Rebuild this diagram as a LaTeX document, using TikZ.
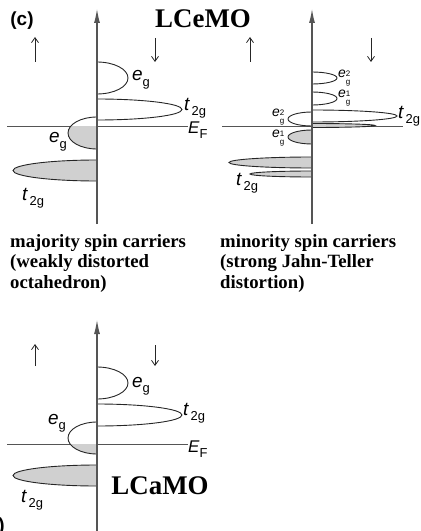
\documentclass[tikz,border=0pt]{standalone}
\usepackage{fontspec}
\setmainfont{Liberation Serif}
\newfontfamily\labfont{Liberation Sans}
\usetikzlibrary{arrows.meta}
\definecolor{Axis}{HTML}{555555}
\definecolor{Edge}{HTML}{262626}
\definecolor{Shade}{HTML}{D0D0D0}
\newcommand\lobe[5][]{\path[#1] (#2,#3) .. controls ({#2+0.5523*(#5-#2)},#3) and (#5,{(#3+#4)/2-0.2762*(#4-#3)}) .. (#5,{(#3+#4)/2}) .. controls (#5,{(#3+#4)/2+0.2762*(#4-#3)}) and ({#2+0.5523*(#5-#2)},#4) .. (#2,#4);}
\newcommand\orb[2]{{\itshape #1}\raisebox{-0.55ex}{\fontsize{13}{13}\selectfont #2}}
\newcommand\orbn[1]{{\itshape e}\raisebox{-0.9ex}{\fontsize{8}{8.5}\selectfont\shortstack[l]{#1\\g}}}

\begin{document}
\begin{tikzpicture}[x=1bp,y=-1bp,
    lobeline/.style={draw=Edge,line width=0.9bp},
    lobefill/.style={lobeline,fill=Shade},
    axisline/.style={draw=Axis,line width=1.1bp,-{Latex[length=14bp,width=6bp]}},
    fermi/.style={draw=Axis,line width=1bp},
    spin/.style={draw=Edge,line width=0.8bp,-{Straight Barb[length=5bp,width=7bp]}},
    lab/.style={anchor=west,inner sep=0,font=\labfont\fontsize{19}{19}\selectfont},
    labs/.style={anchor=west,inner sep=0,font=\labfont\fontsize{14}{14}\selectfont},
    title/.style={inner sep=0,font=\fontsize{27}{27}\selectfont\bfseries},
    caption/.style={anchor=north west,inner sep=0,align=left,font=\fontsize{18.8}{20.5}\selectfont\bfseries}]
  \useasboundingbox (0,0) rectangle (420,531);

  \node[inner sep=0,font=\labfont\fontsize{19}{19}\selectfont\bfseries] (panelc) at (22,21) {(c)};
  \node[title] (ceTitle) at (203,19) {LCeMO};

  % majority / minority, LCeMO
  \draw[fermi] (7,127) -- (188,127);
  \draw[fermi] (222,127) -- (403,127);
  \lobe[lobeline]{97}{62}{94}{128}
  \lobe[lobeline]{97}{99}{120}{182}
  \begin{scope}
    \clip (0,127) rectangle (97,160);
    \lobe[fill=Shade]{97}{117}{149}{68}
  \end{scope}
  \lobe[lobeline]{97}{117}{149}{68}
  \lobe[lobefill]{97}{160}{181}{13}

  \lobe[lobeline]{312}{72}{84}{337}
  \lobe[lobeline]{312}{92}{105}{337}
  \lobe[lobeline]{312}{110}{122}{397}
  \lobe[lobefill]{312}{123.5}{127.5}{375}
  \lobe[lobeline]{312}{112}{126}{288}
  \lobe[lobefill]{312}{130}{144}{288}
  \lobe[lobefill]{312}{157}{168}{229}
  \lobe[lobefill]{312}{171}{177}{250}

  \draw[axisline] (97,224) -- (97,9);
  \draw[axisline] (312,224) -- (312,9);
  \foreach \x in {35,250}{\draw[spin] (\x,62) -- (\x,37);}
  \foreach \x in {155,371}{\draw[spin] (\x,38) -- (\x,62);}

  \node[lab] (egUpA) at (132,80) {\orb{e}{g}};
  \node[lab] (tgUpA) at (184,108) {\orb{t}{\,2g}};
  \node[lab,font=\labfont\fontsize{17}{17}\selectfont] (efA) at (188,130) {\orb{E}{F}};
  \node[lab] (egDnA) at (49,142) {\orb{e}{g}};
  \node[lab] (tgDnA) at (22,198) {\orb{t}{\,2g}};

  \node[labs] (egTwoR) at (338,78) {\orbn{2}};
  \node[labs] (egOneR) at (338,98) {\orbn{1}};
  \node[lab] (tgUpB) at (398,116) {\orb{t}{\,2g}};
  \node[labs] (egTwoL) at (272,117) {\orbn{2}};
  \node[labs] (egOneL) at (272,138) {\orbn{1}};
  \node[lab] (tgDnB) at (236,183) {\orb{t}{\,2g}};

  \node[caption] (majText) at (10,234) {majority spin carriers\\(weakly distorted\\octahedron)};
  \node[caption] (minText) at (220,234) {minority spin carriers\\(strong Jahn-Teller\\distortion)};

  % LCaMO
  \draw[fermi] (7,444) -- (188,444);
  \lobe[lobeline]{97}{367}{399}{128}
  \lobe[lobeline]{97}{404}{426}{182}
  \begin{scope}
    \clip (0,444) rectangle (97,460);
    \lobe[fill=Shade]{97}{422}{454}{68}
  \end{scope}
  \lobe[lobeline]{97}{422}{454}{68}
  \lobe[lobefill]{97}{465}{486}{13}
  \draw[axisline] (97,531) -- (97,320);
  \draw[spin] (35,366) -- (35,344);
  \draw[spin] (155,345) -- (155,366);

  \node[lab] (egUpC) at (132,386) {\orb{e}{g}};
  \node[lab] (tgUpC) at (183,413) {\orb{t}{\,2g}};
  \node[lab] (egDnC) at (48,423) {\orb{e}{g}};
  \node[lab,font=\labfont\fontsize{17}{17}\selectfont] (efC) at (188,449) {\orb{E}{F}};
  \node[lab] (tgDnC) at (21,500) {\orb{t}{\,2g}};
  \node[title] (caTitle) at (160,486) {LCaMO};
  \node[anchor=east,inner sep=0,font=\labfont\fontsize{19}{19}\selectfont\bfseries] (panelb) at (5,527) {(b)};
\end{tikzpicture}
\end{document}
